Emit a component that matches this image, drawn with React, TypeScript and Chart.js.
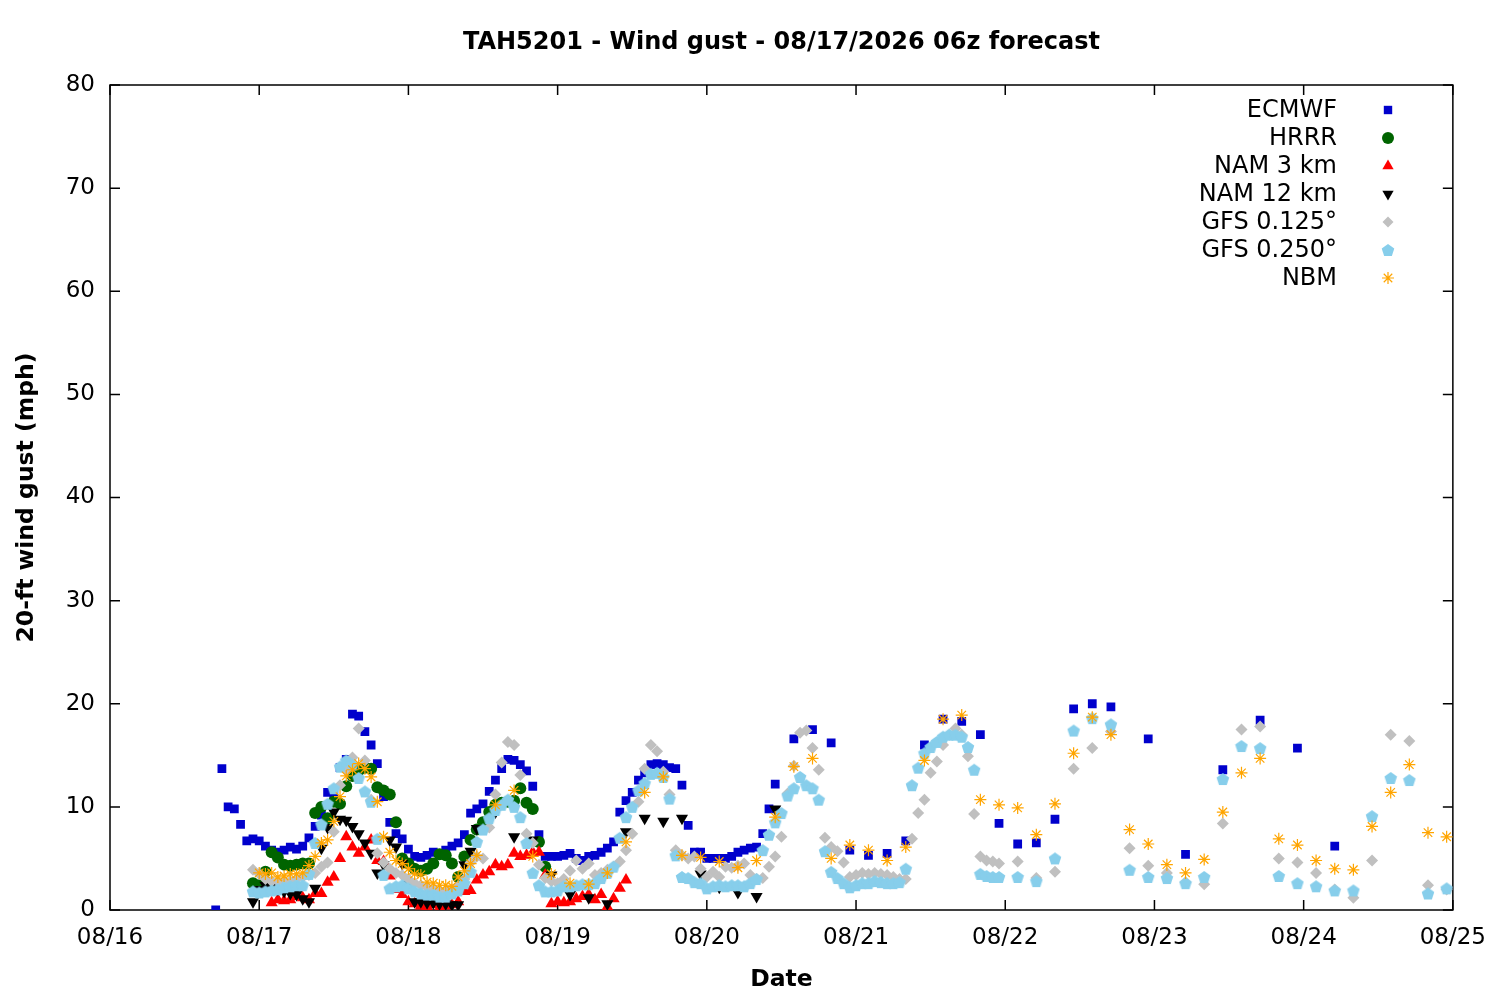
import { useEffect, useRef } from 'react';
import { Chart, registerables } from 'chart.js';

Chart.register(...registerables);

// x axis is hours since 08/16 00h, one tick per day
const dayLabels = ['08/16', '08/17', '08/18', '08/19', '08/20', '08/21', '08/22', '08/23', '08/24', '08/25'];

const modelNames = ['ECMWF', 'HRRR', 'NAM 3 km', 'NAM 12 km', 'GFS 0.125°', 'GFS 0.250°', 'NBM'];
const modelColors = ['#0000cc', '#006400', '#ff0000', '#000000', '#c0c0c0', '#87ceeb', '#ffa500'];
const modelMarkers = ['square', 'circle', 'triangle', 'triangleDown', 'diamond', 'pentagon', 'star'];

// ECMWF: hourly from h17, 3-hourly from h110, 6-hourly from h167
const ecmwfHourly = [
    0.0, 13.7, 10.0, 9.8, 8.3, 6.7, 6.9, 6.7, 6.2, 5.8,
    5.6, 5.8, 6.1, 5.9, 6.2, 7.0, 8.1, 9.2, 11.4, 11.2,
    13.8, 14.6, 19.0, 18.8, 17.3, 16.0, 14.2, 11.0, 8.5, 7.4,
    6.9, 5.9, 5.2, 5.1, 5.3, 5.6, 5.5, 5.8, 6.2, 6.5,
    7.3, 9.4, 9.8, 10.3, 11.5, 12.6, 13.7, 14.6, 14.5, 14.1,
    13.5, 12.0, 7.3, 5.2, 5.2, 5.2, 5.3, 5.5, 5.0, 4.8,
    5.2, 5.3, 5.6, 6.0, 6.6, 9.5, 10.6, 11.4, 12.6, 13.3,
    14.1, 14.2, 14.1, 13.8, 13.7, 12.1, 8.2, 5.6, 5.6, 5.0,
    5.0, 5.0, 5.0, 5.2, 5.6, 5.8, 6.0, 6.1, 7.4, 9.8,
    12.2,
];
const ecmwf3h = [16.6, 17.5, 16.2, 5.8, 5.3, 5.5, 6.7, 16.0, 18.5, 18.3, 17.0, 8.4, 6.4, 6.5, 8.8, 19.5, 20.0, 19.7];
const ecmwf6h = [16.6, 5.4, 13.6, 18.4, 15.7, 6.2];

// HRRR: hourly from h23
const hrrrHourly = [
    2.6, 2.4, 3.7, 5.6, 5.1, 4.4, 4.3, 4.4, 4.5, 4.5,
    9.4, 10.0, 8.9, 10.5, 10.3, 12.0, 13.0, 13.5, 13.8, 13.7,
    11.9, 11.6, 11.2, 8.5, 5.0, 4.5, 4.0, 3.8, 4.0, 4.5,
    5.4, 5.3, 4.5, 3.2, 5.2, 6.8, 7.8, 8.5, 9.5, 10.2,
    10.4, 10.5, 10.6, 11.8, 10.4, 9.8, 6.6, 4.2,
];

// NAM 3 km: hourly from h26
const nam3Hourly = [
    0.7, 1.0, 0.9, 1.0, 1.3, 1.2, 1.0, 1.6, 1.6, 2.7,
    3.2, 5.0, 7.1, 6.1, 5.5, 6.1, 6.8, 4.8, 4.7, 3.3,
    2.0, 1.5, 0.8, 0.6, 0.4, 0.3, 0.5, 0.2, 0.4, 0.5,
    0.8, 1.8, 1.9, 2.9, 3.4, 3.7, 4.4, 4.2, 4.4, 5.5,
    5.2, 5.3, 5.6, 5.6, 3.4, 0.6, 0.8, 0.7, 0.8, 1.1,
    1.3, 1.5, 1.0, 1.5, 0.3, 1.1, 2.1, 2.9,
];

// NAM 12 km: hourly from h23, 3-hourly from h62
const nam12Hourly = [
    0.8, 2.0, 2.4, 2.4, 2.0, 1.8, 1.6, 1.5, 1.1, 0.8,
    2.1, 6.0, 8.0, 9.5, 8.8, 8.7, 8.1, 7.4, 6.5, 5.5,
    3.6, 4.4, 6.8, 6.1, 4.5, 2.5, 0.8, 0.8, 0.7, 0.7,
    0.6, 0.6, 0.5, 0.5, 4.4, 5.7, 7.9,
];
const nam12_3h = [9.5, 7.1, 6.8, 3.4, 1.5, 1.2, 0.6, 7.6, 8.9, 8.6, 8.9, 3.5, 2.2, 1.7, 1.3, 9.8];

// GFS 0.125: hourly from h23, 3-hourly from h146
const gfs125Hourly = [
    3.9, 3.5, 3.0, 2.8, 2.8, 2.7, 2.8, 3.0, 3.2, 3.4,
    3.6, 4.2, 4.6, 7.6, 12.1, 13.5, 14.8, 17.6, 14.5, 10.7,
    5.5, 4.6, 4.0, 3.6, 3.4, 3.0, 2.6, 2.4, 2.2, 2.0,
    1.8, 1.8, 2.0, 2.3, 3.0, 4.6, 5.2, 5.0, 8.0, 11.2,
    14.3, 16.3, 16.0, 13.1, 7.4, 6.5, 4.4, 3.1, 2.8, 2.6,
    3.0, 3.8, 4.8, 4.0, 4.5, 3.4, 3.6, 3.9, 4.2, 4.7,
    5.8, 7.4, 10.5, 13.7, 16.0, 15.4, 13.4, 11.2, 5.8, 5.3,
    5.0, 5.2, 4.0, 3.2, 3.7, 3.2, 4.2, 4.1, 4.3, 4.5,
    3.4, 3.0, 3.1, 4.2, 5.2, 7.1, 11.3, 14.0, 17.2, 17.4,
    15.7, 13.6, 7.0, 6.1, 5.7, 4.6, 3.2, 3.4, 3.6, 3.5,
    3.6, 3.5, 3.4, 3.2, 3.0, 3.0, 6.9, 9.4, 10.7, 13.3,
    14.4, 16.0, 17.0, 17.6, 17.0, 14.9, 9.3, 5.2, 4.8, 4.7,
    4.5,
];
const gfs125_3h = [4.7, 3.1, 3.7, 13.7, 15.7, 17.3, 6.0, 4.3, 3.6, 2.7, 2.5, 8.4, 17.5, 17.8, 5.0, 4.6, 3.6, 2.0, 1.2, 4.8, 17.0, 16.4, 2.4, 2.0];

// GFS 0.250: hourly from h23, 3-hourly from h146
const gfs250Hourly = [
    1.8, 1.7, 1.8, 1.9, 2.0, 2.2, 2.3, 2.4, 2.4, 3.5,
    6.5, 8.3, 10.3, 11.8, 13.9, 14.5, 14.1, 12.8, 11.5, 10.5,
    6.9, 3.4, 2.1, 2.3, 2.4, 2.1, 1.8, 1.6, 1.5, 1.5,
    1.3, 1.3, 1.6, 1.9, 2.6, 3.7, 6.6, 7.8, 8.9, 9.7,
    10.2, 10.7, 10.0, 9.0, 6.5, 3.6, 2.4, 1.8, 1.8, 1.9,
    2.3, 2.3, 2.4, 2.5, 2.5, 2.6, 3.1, 3.6, 4.2, 7.0,
    9.0, 10.0, 11.6, 12.3, 13.2, 13.3, 12.9, 10.8, 5.3, 3.2,
    3.1, 2.7, 2.6, 2.1, 2.3, 2.4, 2.3, 2.4, 2.4, 2.3,
    2.6, 3.0, 5.8, 7.3, 8.5, 9.4, 11.1, 11.8, 12.9, 12.1,
    11.8, 10.7, 5.7, 3.7, 3.1, 2.6, 2.2, 2.4, 2.6, 2.6,
    2.8, 2.7, 2.6, 2.6, 2.7, 4.0, 12.1, 13.8, 15.2, 15.8,
    16.3, 16.8, 17.0, 17.0, 16.8, 15.8, 13.6, 3.5, 3.3, 3.2,
    3.2,
];
const gfs250_3h = [3.2, 2.8, 5.0, 17.4, 18.6, 18.0, 3.9, 3.2, 3.1, 2.6, 3.2, 12.7, 15.9, 15.7, 3.3, 2.6, 2.3, 1.9, 1.9, 9.1, 12.8, 12.6, 1.6, 2.1];

// NBM: hourly from h24, 3-hourly from h62
const nbmHourly = [
    3.6, 3.5, 3.6, 3.2, 3.3, 3.5, 3.5, 3.6, 4.3, 5.2,
    6.5, 6.8, 8.6, 11.0, 13.0, 13.6, 14.2, 13.7, 12.9, 10.5,
    7.1, 5.6, 4.8, 4.5, 4.0, 3.5, 3.4, 2.7, 2.6, 2.4,
    2.4, 2.3, 3.2, 3.8, 4.5, 5.3,
];
const nbm3h = [
    10.2, 11.6, 5.2, 3.5, 2.6, 2.5, 3.6, 6.6, 11.4, 12.9,
    5.3, 5.1, 4.7, 4.1, 4.8, 9.0, 13.9, 14.7, 5.0, 6.3,
    5.8, 4.8, 6.1, 14.5, 18.5, 18.9, 10.7, 10.2, 9.9, 7.3,
    10.3, 15.2, 18.7, 17.0, 7.8, 6.4, 4.4, 3.6, 4.9, 9.5,
    13.3, 14.7, 6.9, 6.3, 4.8, 4.0, 3.9, 8.1, 11.4, 14.1,
    7.5, 7.1,
];

type Pt = { x: number; y: number };

function run(startHour: number, step: number, values: number[]): Pt[] {
    return values.map((v, i) => ({ x: startHour + i * step, y: v }));
}

const seriesPoints: Pt[][] = [
    [...run(17, 1, ecmwfHourly), ...run(110, 3, ecmwf3h), ...run(167, 6, ecmwf6h)],
    run(23, 1, hrrrHourly),
    run(26, 1, nam3Hourly),
    [...run(23, 1, nam12Hourly), ...run(62, 3, nam12_3h)],
    [...run(23, 1, gfs125Hourly), ...run(146, 3, gfs125_3h)],
    [...run(23, 1, gfs250Hourly), ...run(146, 3, gfs250_3h)],
    [...run(24, 1, nbmHourly), ...run(62, 3, nbm3h)],
];

const FONT = "'DejaVu Sans', sans-serif";

let pentagonImage: HTMLCanvasElement | null = null;
function getPentagon(): HTMLCanvasElement {
    if (pentagonImage) return pentagonImage;
    const c = document.createElement('canvas');
    c.width = 14;
    c.height = 14;
    const g = c.getContext('2d')!;
    g.fillStyle = modelColors[5];
    g.beginPath();
    for (let i = 0; i < 5; i++) {
        const a = -Math.PI / 2 + (i * 2 * Math.PI) / 5;
        const px = 7 + 6.6 * Math.cos(a);
        const py = 7.6 + 6.6 * Math.sin(a);
        if (i === 0) g.moveTo(px, py);
        else g.lineTo(px, py);
    }
    g.closePath();
    g.fill();
    pentagonImage = c;
    return c;
}

function drawMarker(ctx: CanvasRenderingContext2D, kind: string, x: number, y: number, color: string) {
    ctx.save();
    ctx.fillStyle = color;
    ctx.strokeStyle = color;
    ctx.beginPath();
    if (kind === 'square') {
        ctx.rect(x - 4.2, y - 4.2, 8.4, 8.4);
        ctx.fill();
    } else if (kind === 'circle') {
        ctx.arc(x, y, 6, 0, Math.PI * 2);
        ctx.fill();
    } else if (kind === 'triangle' || kind === 'triangleDown') {
        const s = kind === 'triangle' ? 1 : -1;
        const r = 6.5;
        ctx.moveTo(x, y - s * r);
        ctx.lineTo(x + r * 0.866, y + s * r * 0.5);
        ctx.lineTo(x - r * 0.866, y + s * r * 0.5);
        ctx.closePath();
        ctx.fill();
    } else if (kind === 'diamond') {
        const r = 5.5;
        ctx.moveTo(x, y - r);
        ctx.lineTo(x + r, y);
        ctx.lineTo(x, y + r);
        ctx.lineTo(x - r, y);
        ctx.closePath();
        ctx.fill();
    } else if (kind === 'pentagon') {
        const img = getPentagon();
        ctx.drawImage(img, x - 7, y - 7);
    } else if (kind === 'star') {
        const r = 6;
        ctx.lineWidth = 1.2;
        ctx.moveTo(x - r, y);
        ctx.lineTo(x + r, y);
        ctx.moveTo(x, y - r);
        ctx.lineTo(x, y + r);
        const d = r * Math.SQRT1_2;
        ctx.moveTo(x - d, y - d);
        ctx.lineTo(x + d, y + d);
        ctx.moveTo(x - d, y + d);
        ctx.lineTo(x + d, y - d);
        ctx.stroke();
    }
    ctx.restore();
}

// border box with inward ticks, like the gnuplot original
const framePlugin = {
    id: 'gnuplotFrame',
    beforeDatasetsDraw(chart: Chart) {
        const { ctx, chartArea: a, scales } = chart;
        ctx.save();
        ctx.strokeStyle = '#000';
        ctx.lineWidth = 1.5;
        ctx.strokeRect(a.left, a.top, a.right - a.left, a.bottom - a.top);
        ctx.beginPath();
        for (const t of scales.x.ticks) {
            const px = scales.x.getPixelForValue(t.value);
            ctx.moveTo(px, a.bottom);
            ctx.lineTo(px, a.bottom - 10);
            ctx.moveTo(px, a.top);
            ctx.lineTo(px, a.top + 10);
        }
        for (const t of scales.y.ticks) {
            const py = scales.y.getPixelForValue(t.value);
            ctx.moveTo(a.left, py);
            ctx.lineTo(a.left + 10, py);
            ctx.moveTo(a.right, py);
            ctx.lineTo(a.right - 10, py);
        }
        ctx.stroke();
        ctx.restore();
    },
    afterDraw(chart: Chart) {
        const { ctx, chartArea: a } = chart;
        ctx.save();
        ctx.fillStyle = '#000';
        ctx.font = `bold 24px ${FONT}`;
        ctx.textAlign = 'center';
        ctx.textBaseline = 'middle';
        ctx.fillText('TAH5201 - Wind gust - 08/17/2026 06z forecast', (a.left + a.right) / 2, 43);

        ctx.font = `24px ${FONT}`;
        ctx.textAlign = 'right';
        modelNames.forEach((name, i) => {
            const y = 110 + i * 28;
            ctx.fillStyle = '#000';
            ctx.fillText(name, 1337, y + 1);
            drawMarker(ctx, modelMarkers[i], 1388, y, modelColors[i]);
        });
        ctx.restore();
    },
};

function pointStyleFor(kind: string): any {
    if (kind === 'square') return 'rect';
    if (kind === 'circle') return 'circle';
    if (kind === 'triangle' || kind === 'triangleDown') return 'triangle';
    if (kind === 'diamond') return 'rectRot';
    if (kind === 'pentagon') return getPentagon();
    return 'star';
}

function radiusFor(kind: string): number {
    if (kind === 'square') return 6.2;
    if (kind === 'triangle' || kind === 'triangleDown') return 7;
    return 6;
}

export default function App() {
    const canvasRef = useRef<HTMLCanvasElement | null>(null);

    useEffect(() => {
        document.body.style.margin = '0';
        if (!canvasRef.current) {
            return;
        }

        const chart = new Chart(canvasRef.current, {
            type: 'scatter',
            data: {
                datasets: modelNames.map((name, i) => ({
                    label: name,
                    data: seriesPoints[i],
                    showLine: false,
                    order: modelNames.length - i,
                    pointStyle: pointStyleFor(modelMarkers[i]),
                    pointRotation: modelMarkers[i] === 'triangleDown' ? 180 : 0,
                    pointRadius: radiusFor(modelMarkers[i]),
                    pointBackgroundColor: modelColors[i],
                    pointBorderColor: modelColors[i],
                    pointBorderWidth: modelMarkers[i] === 'star' ? 1.2 : 0,
                })),
            },
            options: {
                responsive: false,
                animation: false,
                devicePixelRatio: 1,
                events: [],
                layout: { padding: { top: 85, right: 46, left: 0, bottom: 0 } },
                plugins: {
                    legend: { display: false },
                    tooltip: { enabled: false },
                },
                scales: {
                    x: {
                        type: 'linear',
                        min: 0,
                        max: 216,
                        grid: { display: false, drawTicks: false },
                        border: { display: false },
                        ticks: {
                            stepSize: 24,
                            padding: 14,
                            color: '#000',
                            font: { family: FONT, size: 23 },
                            maxRotation: 0,
                            callback: (value) => dayLabels[Math.round(Number(value) / 24)] ?? '',
                        },
                        title: {
                            display: true,
                            text: 'Date',
                            color: '#000',
                            font: { family: FONT, size: 23.5, weight: 'bold' },
                            padding: { top: 0, bottom: 6 },
                        },
                        afterFit: (scale) => {
                            scale.height = 90;
                        },
                    },
                    y: {
                        min: 0,
                        max: 80,
                        grid: { display: false, drawTicks: false },
                        border: { display: false },
                        ticks: {
                            stepSize: 10,
                            padding: 15,
                            color: '#000',
                            font: { family: FONT, size: 23 },
                        },
                        title: {
                            display: true,
                            text: '20-ft wind gust (mph)',
                            color: '#000',
                            font: { family: FONT, size: 23.5, weight: 'bold' },
                            padding: { top: 13, bottom: 0 },
                        },
                        afterFit: (scale) => {
                            scale.width = 110;
                        },
                    },
                },
            },
            plugins: [framePlugin],
        });

        return () => chart.destroy();
    }, []);

    return (
        <div style={{ width: 1500, height: 1000, background: '#fff' }}>
            <canvas ref={canvasRef} width={1500} height={1000} />
        </div>
    );
}
